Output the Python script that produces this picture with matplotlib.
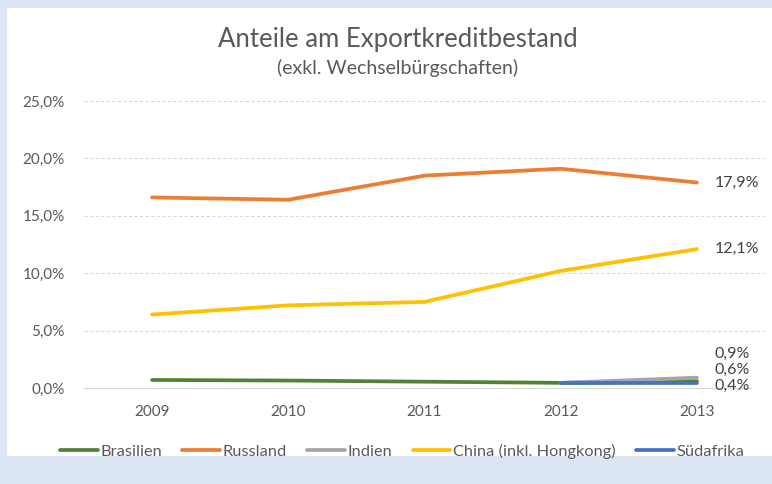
import matplotlib.pyplot as plt
from matplotlib.patches import Rectangle

plt.rcParams['font.family'] = ['Lato', 'DejaVu Sans']

# data (shares in %)
years = ['2009', '2010', '2011', '2012', '2013']
brasilien = [0.7, 0.65, 0.55, 0.45, 0.6]
russland = [16.6, 16.4, 18.5, 19.1, 17.9]
indien = [None, None, None, 0.45, 0.9]
china = [6.4, 7.2, 7.5, 10.2, 12.1]
suedafrika = [None, None, None, 0.4, 0.4]

names = ['Brasilien', 'Russland', 'Indien', 'China (inkl. Hongkong)', 'Südafrika']
colors = ['#548235', '#ED7D31', '#A5A5A5', '#FFC000', '#4472C4']
yticks = [0, 5, 10, 15, 20, 25]

# end labels: (value, text, vertical offset in px)
end_labels = [(17.9, '17,9%', 0), (12.1, '12,1%', 0),
              (0.9, '0,9%', 24), (0.6, '0,6%', 11), (0.4, '0,4%', -2)]

W, H = 772, 484
fig = plt.figure(figsize=(W / 100, H / 100), dpi=100, facecolor='#DCE6F2')
fig.patches.append(Rectangle((7 / W, 28 / H), 1 - 7 / W, (476 - 28) / H,
                             transform=fig.transFigure, facecolor='white',
                             edgecolor='none', zorder=-5))

ax = fig.add_axes([84 / W, 96 / H, (765 - 84) / W, (388 - 101) / H])
ax.set_facecolor('none')

series = [brasilien, russland, indien, china, suedafrika]
xs = list(range(len(years)))
for vals, name, c in zip(series, names, colors):
    pts = [(x, v) for x, v in zip(xs, vals) if v is not None]
    ax.plot([p[0] for p in pts], [p[1] for p in pts], color=c, lw=2.7,
            label=name, solid_capstyle='round', zorder=3)

for val, txt, dy in end_labels:
    ax.annotate(txt, xy=(4, val), xytext=(18, dy), textcoords='offset pixels',
                ha='left', va='center', fontsize=11.5, color='#404040')

ax.set_xlim(-0.5, 4.5)
ax.set_ylim(0, 25)
ax.set_xticks(xs)
ax.set_xticklabels(years)
ax.set_yticks(yticks)
ax.set_yticklabels(['%d,0%%' % t for t in yticks])
ax.tick_params(length=0, labelsize=11, colors='#595959', pad=14)
ax.tick_params(axis='x', pad=12)
for y in yticks[1:]:
    ax.axhline(y, color='#D9D9D9', lw=0.8, ls=(0, (3, 2)), zorder=1)
for s in ['top', 'right', 'left']:
    ax.spines[s].set_visible(False)
ax.spines['bottom'].set_color('#D9D9D9')
ax.spines['bottom'].set_bounds(-0.5, 4.4)

fig.text(398 / W, 1 - 39 / H, 'Anteile am Exportkreditbestand', ha='center',
         va='center', fontsize=18.5, color='#595959')
fig.text(398 / W, 1 - 68 / H, '(exkl. Wechselbürgschaften)', ha='center',
         va='center', fontsize=14, color='#595959')

fig.legend(loc='center', bbox_to_anchor=(402 / W, 1 - 451 / H), ncol=5,
           frameon=False, fontsize=11.8, handlelength=2.3, handletextpad=0.15,
           columnspacing=1.25, labelcolor='#595959')

fig.savefig('out.png', dpi=100, facecolor=fig.get_facecolor())
